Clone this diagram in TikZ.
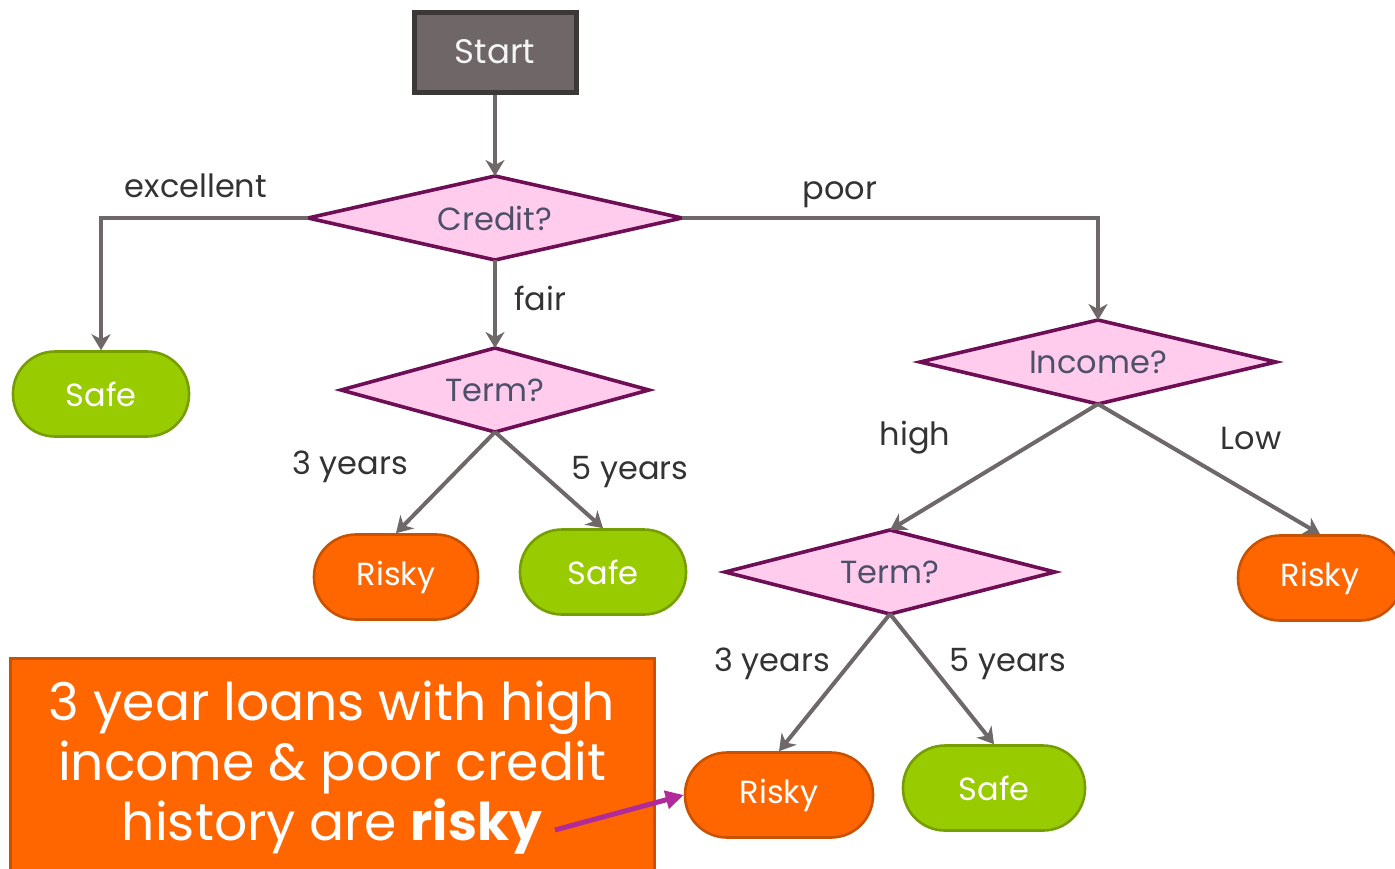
\documentclass[tikz,border=0pt]{standalone}
\usepackage{fontspec}
\setmainfont{Poppins}
\usetikzlibrary{positioning,arrows.meta,shapes.geometric}
\definecolor{treeGray}{RGB}{110,104,104}
\definecolor{startFill}{RGB}{111,103,103}
\definecolor{startEdge}{RGB}{60,56,56}
\definecolor{askPink}{RGB}{255,204,238}
\definecolor{askPurple}{RGB}{110,14,84}
\definecolor{askText}{RGB}{77,80,104}
\definecolor{safeGreen}{RGB}{153,204,0}
\definecolor{safeEdge}{RGB}{118,158,0}
\definecolor{riskyOrange}{RGB}{255,102,0}
\definecolor{riskyEdge}{RGB}{200,82,0}
\definecolor{noteMagenta}{RGB}{176,42,154}
\definecolor{labelText}{RGB}{51,51,51}

\begin{document}
\begin{tikzpicture}[x=0.5pt, y=-0.5pt,
  startbox/.style={draw=startEdge, fill=startFill, line width=2.5pt, text=white!92!gray, minimum width=81pt, minimum height=40pt, font=\fontsize{17}{20}\selectfont},
  askbox/.style={diamond, aspect=4, draw=askPurple, fill=askPink, line width=1.8pt, text=askText, inner sep=0pt, outer sep=0pt, minimum height=42pt, font=\fontsize{16}{19}\selectfont},
  leafbox/.style={rounded corners=21pt, line width=1.3pt, text=white, minimum height=42.5pt, font=\fontsize{16}{19}\selectfont},
  safeleaf/.style={leafbox, draw=safeEdge, fill=safeGreen},
  riskyleaf/.style={leafbox, draw=riskyEdge, fill=riskyOrange},
  branch/.style={draw=treeGray, line width=2pt, -{Stealth[length=8pt,width=9.5pt,inset=2.5pt]}},
  edgelabel/.style={text=labelText, font=\fontsize{16}{19}\selectfont},
]
  \useasboundingbox (0,0) rectangle (1395,868);

  \node[startbox] (start) at (495,52) {Start};
  \node[askbox, minimum width=187pt] (credit) at (495,218) {Credit?};
  \node[safeleaf, minimum width=88pt] (safeA) at (101,394) {Safe};
  \node[askbox, minimum width=154pt] (termA) at (495,390) {Term?};
  \node[riskyleaf, minimum width=82pt] (riskyA) at (396,577) {Risky};
  \node[safeleaf, minimum width=83pt] (safeB) at (603,572) {Safe};
  \node[askbox, minimum width=178pt] (income) at (1098,362) {Income?};
  \node[askbox, minimum width=165pt] (termB) at (890,572) {Term?};
  \node[riskyleaf, minimum width=82pt] (riskyC) at (1320,578) {Risky};
  \node[riskyleaf, minimum width=94pt] (riskyB) at (779,795) {Risky};
  \node[safeleaf, minimum width=91pt] (safeC) at (994,788) {Safe};

  \draw[branch] (start.south) -- (credit.north);
  \draw[branch] (credit.west) -| (safeA.north);
  \draw[branch] (credit.east) -| (income.north);
  \draw[branch] (credit.south) -- (termA.north);
  \draw[branch] (termA.south) -- (riskyA.north);
  \draw[branch] (termA.south) -- (safeB.north);
  \draw[branch] (income.south) -- (termB.north);
  \draw[branch] (income.south) -- (riskyC.north);
  \draw[branch] (termB.south) -- (riskyB.north);
  \draw[branch] (termB.south) -- (safeC.north);

  \node[edgelabel] (lblExcellent) at (196,186) {excellent};
  \node[edgelabel] (lblPoor) at (840,195) {poor};
  \node[edgelabel] (lblFair) at (540,298) {fair};
  \node[edgelabel] (lblThreeA) at (350,467) {3 years};
  \node[edgelabel] (lblFiveA) at (630,472) {5 years};
  \node[edgelabel] (lblHigh) at (915,438) {high};
  \node[edgelabel] (lblLow) at (1251,438) {Low};
  \node[edgelabel] (lblThreeB) at (772,664) {3 years};
  \node[edgelabel] (lblFiveB) at (1008,664) {5 years};

  \node[draw=riskyEdge, fill=riskyOrange, line width=1.5pt, text=white, minimum width=322pt, minimum height=110pt, align=center, font=\fontsize{26}{30}\selectfont] (note) at (332,768) {3 year loans with high\\income \& poor credit\\history are \textbf{risky}};
  \coordinate (noteTip) at (555,830);
  \draw[noteMagenta, line width=2.5pt, -{Triangle[length=9pt,width=9pt]}] (noteTip) -- (riskyB.west);
\end{tikzpicture}
\end{document}
